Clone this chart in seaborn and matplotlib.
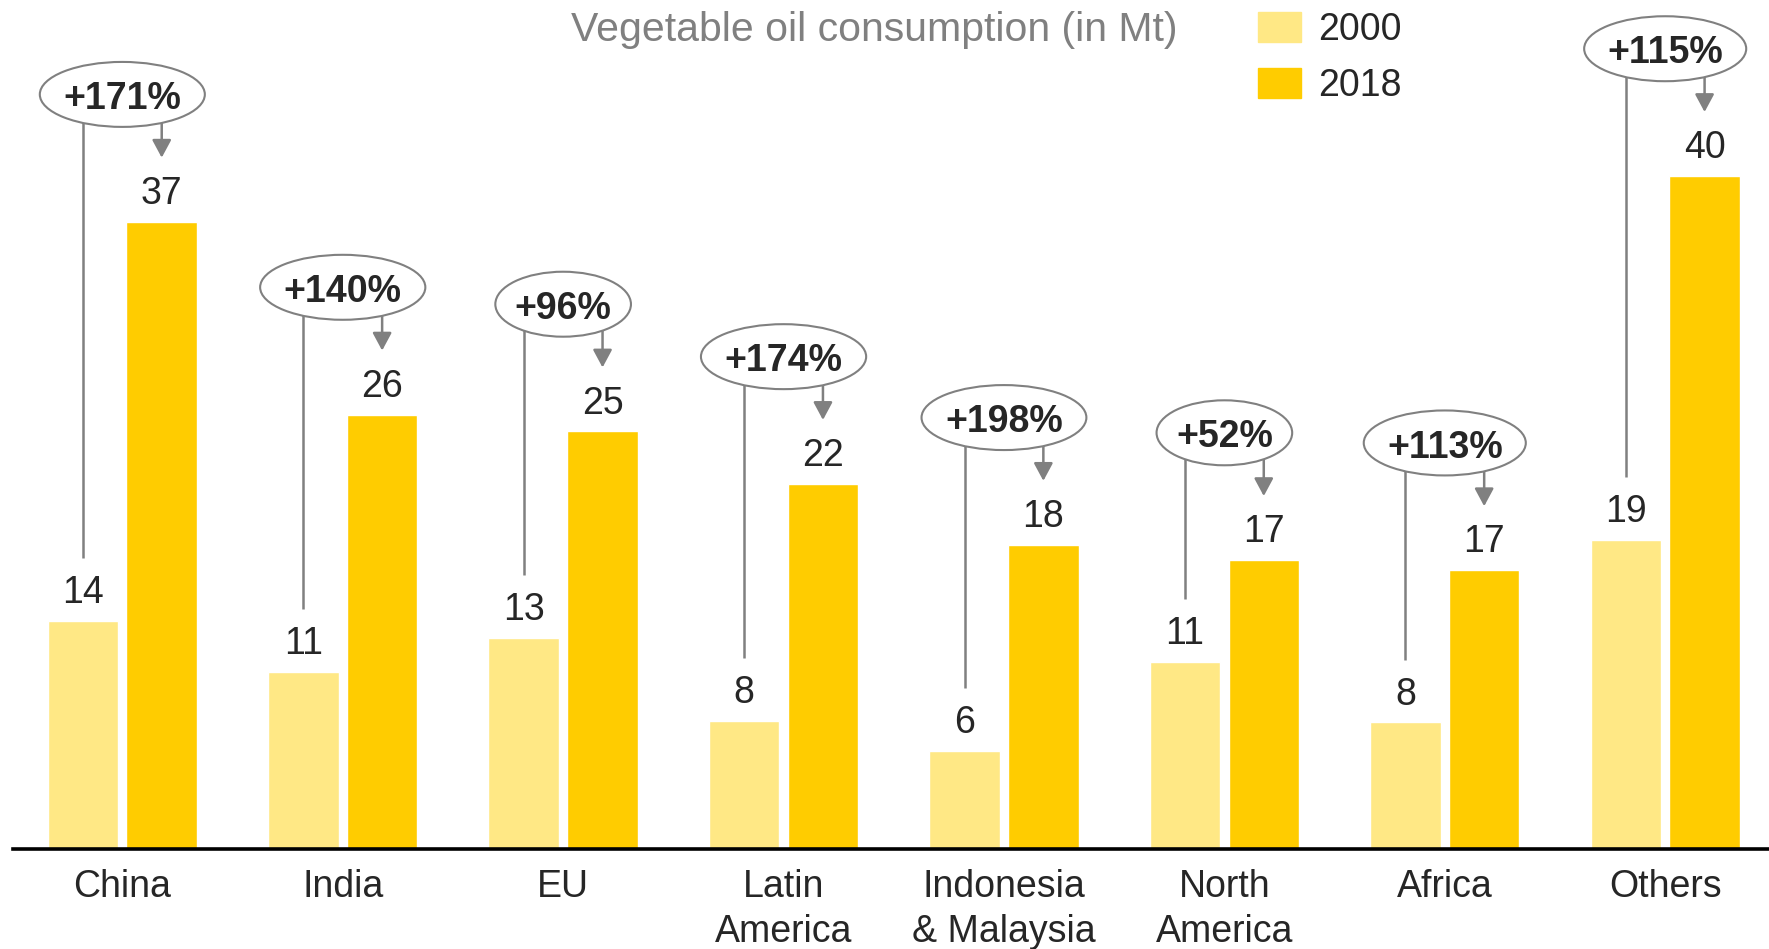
import pandas as pd
import matplotlib.pyplot as plt
import seaborn as sns
from matplotlib.patches import Patch, Ellipse

# bar heights (Mt) and the rounded numbers printed on it
regions = ['China', 'India', 'EU', 'Latin\nAmerica', 'Indonesia\n& Malaysia',
           'North\nAmerica', 'Africa', 'Others']
years = ['2000', '2018']
vals_2000 = [13.5, 10.5, 12.5, 7.6, 5.8, 11.1, 7.5, 18.3]
vals_2018 = [37.1, 25.7, 24.7, 21.6, 18.0, 17.1, 16.5, 39.8]
labels_2000 = ['14', '11', '13', '8', '6', '11', '8', '19']
labels_2018 = ['37', '26', '25', '22', '18', '17', '17', '40']
growth = ['+171%', '+140%', '+96%', '+174%', '+198%', '+52%', '+113%', '+115%']

c2000 = '#FFE885'
c2018 = '#FFCC00'
grey = '#808080'

df = pd.DataFrame({
    'region': regions * 2,
    'year': [years[0]] * len(regions) + [years[1]] * len(regions),
    'value': vals_2000 + vals_2018,
})

sns.set_style('white')
plt.rcParams['font.family'] = ['Liberation Sans', 'DejaVu Sans']

fig = plt.figure(figsize=(17.69, 9.49), dpi=100)
ax = fig.add_axes([0.0076, 0.105, 0.9924, 0.895])

sns.barplot(data=df, x='region', y='value', hue='year', palette=[c2000, c2018],
            width=0.715, gap=0.105, ax=ax, legend=False, saturation=1)

ax.set_xlim(-0.494, 7.471)
ax.set_ylim(0, 50.2)
ax.set_xlabel('')
ax.set_ylabel('')
ax.set_yticks([])
for s in ['top', 'left', 'right']:
    ax.spines[s].set_visible(False)
ax.spines['bottom'].set_color('black')
ax.spines['bottom'].set_linewidth(2.6)
ax.tick_params(axis='x', length=0, pad=14, labelsize=27)
for lab in ax.get_xticklabels():
    lab.set_linespacing(1.33)

# bar centres and heights come from the drawn bars
bars_a = ax.containers[0]
bars_b = ax.containers[1]
pct_texts = []
for i, (ra, rb) in enumerate(zip(bars_a, bars_b)):
    xa = ra.get_x() + ra.get_width() / 2
    xb = rb.get_x() + rb.get_width() / 2
    ha = ra.get_height()
    hb = rb.get_height()
    ax.text(xa, ha + 1.06, labels_2000[i], ha='center', va='baseline', fontsize=27)
    ax.text(xb, hb + 1.06, labels_2018[i], ha='center', va='baseline', fontsize=27)

    ey = hb + 7.52
    # line down to the 2000 value
    ax.plot([xa, xa], [ey, ha + 3.72], color=grey, lw=1.8, zorder=3,
            solid_capstyle='butt')
    # arrow down to the 2018 value
    ax.annotate('', xy=(xb, hb + 3.78), xytext=(xb, ey), zorder=3,
                arrowprops=dict(arrowstyle='-|>,head_length=1.08,head_width=0.58',
                                color=grey, lw=1.8, shrinkA=0, shrinkB=0))
    t = ax.text((xa + xb) / 2, ey - 0.86, growth[i], ha='center', va='baseline',
                fontsize=27, fontweight='bold', zorder=5)
    pct_texts.append((t, (xa + xb) / 2, ey))

# ellipses sized to the bold growth labels
fig.canvas.draw()
renderer = fig.canvas.get_renderer()
px_per_x = ax.transData.transform((1, 0))[0] - ax.transData.transform((0, 0))[0]
for t, cx, cy in pct_texts:
    w = t.get_window_extent(renderer).width * 1.40 / px_per_x
    ax.add_patch(Ellipse((cx, cy), w, 3.84, fc='white', ec=grey, lw=1.5, zorder=4))

fig.text(874 / 1769, 1 - 30 / 949, 'Vegetable oil consumption (in Mt)',
         ha='center', va='center', fontsize=29.5, color=grey)

handles = [Patch(color=c2000), Patch(color=c2018)]
ax.legend(handles, years, loc='upper left', bbox_to_anchor=(1258 / 1769, 0.9874),
          bbox_transform=fig.transFigure, frameon=False, fontsize=27,
          handlelength=1.15, handleheight=0.85, handletextpad=0.45,
          labelspacing=0.54, borderpad=0, borderaxespad=0)

fig.savefig('out.png', dpi=100)
